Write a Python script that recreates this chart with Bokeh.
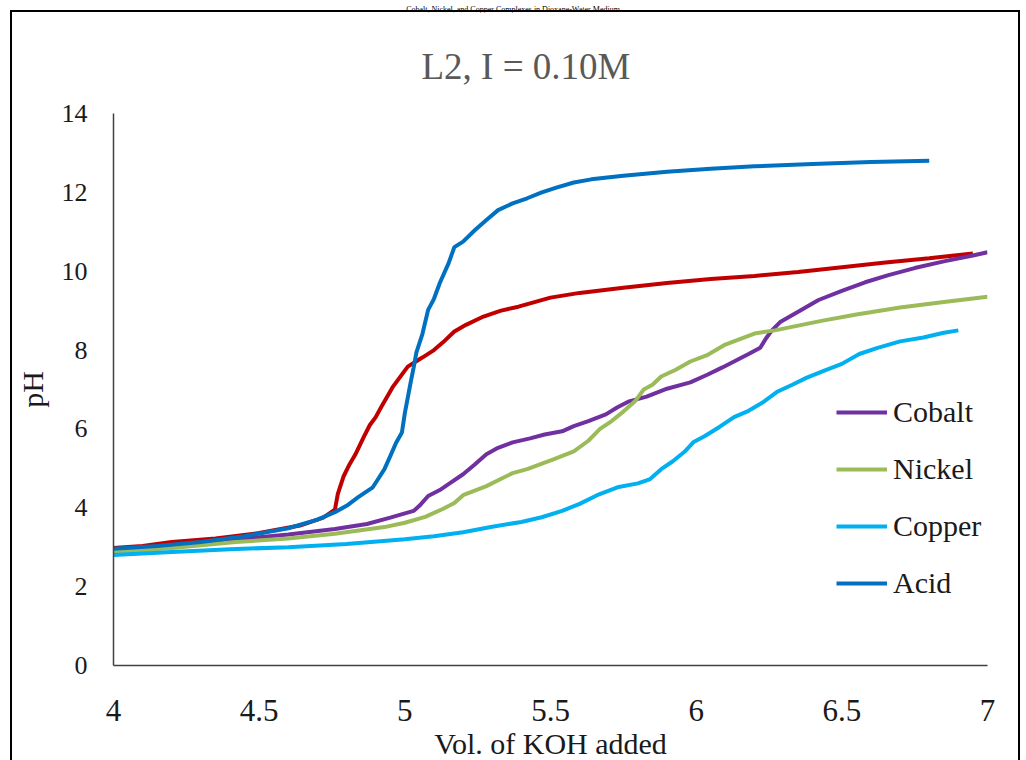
from bokeh.plotting import figure
from bokeh.models import FixedTicker, Legend, LegendItem, Div
from bokeh.layouts import column
from bokeh.embed import file_html
from bokeh.resources import INLINE

# ---- data ----
ligand_x = [4.0, 4.10, 4.20, 4.35, 4.50, 4.64, 4.72, 4.76, 4.77, 4.79, 4.81, 4.83, 4.86, 4.88, 4.90, 4.92,
            4.96, 5.01, 5.06, 5.10, 5.13, 5.17, 5.21, 5.27, 5.33, 5.39, 5.50, 5.60, 5.75, 5.90, 6.05, 6.20,
            6.35, 6.50, 6.65, 6.80, 6.95]
ligand_y = [2.98, 3.03, 3.13, 3.22, 3.36, 3.55, 3.75, 3.95, 4.35, 4.80, 5.10, 5.35, 5.81, 6.10, 6.30, 6.57,
            7.08, 7.58, 7.81, 8.00, 8.19, 8.47, 8.64, 8.85, 9.00, 9.10, 9.33, 9.45, 9.58, 9.70, 9.80, 9.88,
            9.98, 10.10, 10.22, 10.33, 10.45]

acid_x = [4.0, 4.15, 4.30, 4.45, 4.60, 4.70, 4.76, 4.80, 4.84, 4.89, 4.91, 4.93, 4.95, 4.97, 4.99, 5.00,
          5.02, 5.03, 5.04, 5.06, 5.08, 5.10, 5.12, 5.15, 5.17, 5.20, 5.24, 5.28, 5.32, 5.37, 5.42, 5.47,
          5.52, 5.58, 5.64, 5.75, 5.90, 6.05, 6.20, 6.40, 6.60, 6.80]
acid_y = [2.96, 3.03, 3.13, 3.28, 3.48, 3.70, 3.89, 4.05, 4.27, 4.52, 4.75, 4.98, 5.31, 5.65, 5.91, 6.40,
          7.18, 7.55, 7.95, 8.40, 9.02, 9.30, 9.70, 10.20, 10.61, 10.75, 11.04, 11.30, 11.55, 11.72, 11.85, 12.00,
          12.12, 12.25, 12.33, 12.42, 12.52, 12.60, 12.66, 12.72, 12.77, 12.80]

cobalt_x = [4.0, 4.20, 4.42, 4.60, 4.76, 4.87, 4.95, 5.03, 5.05, 5.08, 5.12, 5.15, 5.20, 5.24, 5.28, 5.32,
            5.37, 5.43, 5.48, 5.54, 5.58, 5.63, 5.69, 5.73, 5.77, 5.83, 5.90, 5.98, 6.04, 6.09, 6.13, 6.18,
            6.22, 6.24, 6.26, 6.29, 6.35, 6.42, 6.50, 6.58, 6.66, 6.75, 6.85, 6.95, 7.0]
cobalt_y = [2.88, 3.00, 3.20, 3.32, 3.46, 3.59, 3.75, 3.92, 4.05, 4.30, 4.45, 4.60, 4.85, 5.10, 5.36, 5.52,
            5.66, 5.76, 5.86, 5.94, 6.07, 6.20, 6.37, 6.55, 6.70, 6.82, 7.02, 7.18, 7.38, 7.56, 7.71, 7.90,
            8.06, 8.30, 8.50, 8.72, 8.97, 9.27, 9.50, 9.72, 9.90, 10.08, 10.25, 10.40, 10.48]

nickel_x = [4.0, 4.20, 4.42, 4.60, 4.76, 4.93, 5.00, 5.07, 5.13, 5.17, 5.20, 5.28, 5.37, 5.42, 5.51, 5.58,
            5.63, 5.67, 5.71, 5.75, 5.79, 5.82, 5.85, 5.88, 5.93, 5.98, 6.04, 6.10, 6.15, 6.20, 6.27, 6.35,
            6.43, 6.55, 6.70, 6.85, 7.0]
nickel_y = [2.88, 2.98, 3.13, 3.22, 3.34, 3.51, 3.62, 3.77, 3.97, 4.12, 4.32, 4.55, 4.88, 4.98, 5.23, 5.43,
            5.70, 6.00, 6.20, 6.44, 6.70, 7.00, 7.12, 7.33, 7.50, 7.71, 7.88, 8.14, 8.28, 8.42, 8.50, 8.62,
            8.74, 8.90, 9.08, 9.22, 9.35]

copper_x = [4.0, 4.20, 4.40, 4.60, 4.80, 5.00, 5.10, 5.20, 5.30, 5.40, 5.47, 5.54, 5.60, 5.66, 5.73, 5.80,
            5.84, 5.88, 5.92, 5.96, 5.99, 6.03, 6.08, 6.13, 6.18, 6.23, 6.28, 6.33, 6.38, 6.44, 6.50, 6.56,
            6.62, 6.70, 6.78, 6.85, 6.90]
copper_y = [2.80, 2.88, 2.95, 3.00, 3.08, 3.20, 3.28, 3.38, 3.52, 3.64, 3.76, 3.92, 4.10, 4.32, 4.52, 4.62,
            4.72, 4.98, 5.18, 5.42, 5.66, 5.82, 6.05, 6.30, 6.46, 6.68, 6.95, 7.12, 7.30, 7.48, 7.65, 7.90,
            8.05, 8.22, 8.32, 8.44, 8.50]

x_ticks = [4, 4.5, 5, 5.5, 6, 6.5, 7]
x_tick_labels = ["4", "4.5", "5", "5.5", "6", "6.5", "7"]
y_ticks = [0, 2, 4, 6, 8, 10, 12, 14]

page_heading = "Cobalt, Nickel, and Copper Complexes in Dioxane-Water Medium"
title_text = "L2, I = 0.10M"
x_label = "Vol. of KOH added"
y_label = "pH"

FONT = "Liberation Serif"

# document heading above the chart area (kept inside the 10px strip)
heading = Div(
    text=('<div style="width:1006px; padding-left:20px; text-align:center; '
          'font-family:\'Liberation Serif\'; font-size:8px; line-height:10px; '
          'color:#000000; white-space:nowrap;">' + page_heading + '</div>'),
    width=1026, height=10, margin=0)

W, H = 1010, 750
p = figure(width=W, height=H, x_range=(4, 7), y_range=(0, 14),
           output_backend="svg", toolbar_location=None,
           min_border_left=100, min_border_right=35, min_border_top=101, min_border_bottom=95)

# outer chart-area border
p.styles = {"margin-left": "10px",
            "border-left": "2px solid #000000", "border-top": "2px solid #000000",
            "border-right": "2px solid #000000"}

p.title.text = title_text
p.title.align = "left"
p.title.offset = 308
p.title.standoff = 54
p.title.text_font = FONT
p.title.text_font_size = "37px"
p.title.text_font_style = "normal"
p.title.text_color = "#595959"

p.xgrid.visible = False
p.ygrid.visible = False
p.outline_line_color = None

for ax in (p.xaxis[0], p.yaxis[0]):
    ax.major_tick_line_color = None
    ax.minor_tick_line_color = None
    ax.axis_line_color = "#404040"
    ax.axis_line_width = 1.5
    ax.major_label_text_font = FONT
    ax.major_label_text_color = "#1a1a1a"
    ax.axis_label_text_font = FONT
    ax.axis_label_text_font_size = "30px"
    ax.axis_label_text_font_style = "normal"
    ax.axis_label_text_color = "#1a1a1a"

p.xaxis.major_label_text_font_size = "31px"
p.yaxis.major_label_text_font_size = "26px"
p.xaxis.ticker = FixedTicker(ticks=x_ticks)
p.xaxis.major_label_overrides = {t: l for t, l in zip(x_ticks, x_tick_labels)}
p.yaxis.ticker = FixedTicker(ticks=y_ticks)
p.xaxis.axis_label = x_label
p.yaxis.axis_label = y_label
p.xaxis.major_label_standoff = 28
p.xaxis.axis_label_standoff = 3
p.yaxis.major_label_standoff = 20
p.yaxis.axis_label_standoff = 10

LW = 4
p.line(ligand_x, ligand_y, line_color="#C00000", line_width=LW)
r_co = p.line(cobalt_x, cobalt_y, line_color="#7030A0", line_width=LW)
r_ni = p.line(nickel_x, nickel_y, line_color="#9BBB59", line_width=LW)
r_cu = p.line(copper_x, copper_y, line_color="#00B0F0", line_width=LW)
r_ac = p.line(acid_x, acid_y, line_color="#0070C0", line_width=LW)

legend = Legend(items=[
    LegendItem(label="Cobalt", renderers=[r_co]),
    LegendItem(label="Nickel", renderers=[r_ni]),
    LegendItem(label="Copper", renderers=[r_cu]),
    LegendItem(label="Acid", renderers=[r_ac]),
], location=(723, 65))
legend.border_line_color = None
legend.background_fill_alpha = 0
legend.padding = 0
legend.margin = 0
legend.glyph_width = 51
legend.glyph_height = 30
legend.label_height = 30
legend.spacing = 23
legend.label_standoff = 6
legend.label_text_font = FONT
legend.label_text_font_size = "30px"
legend.label_text_color = "#1a1a1a"
p.add_layout(legend, "center")

root = column(heading, p, spacing=0)
open("out.html", "w").write(file_html(root, INLINE))
